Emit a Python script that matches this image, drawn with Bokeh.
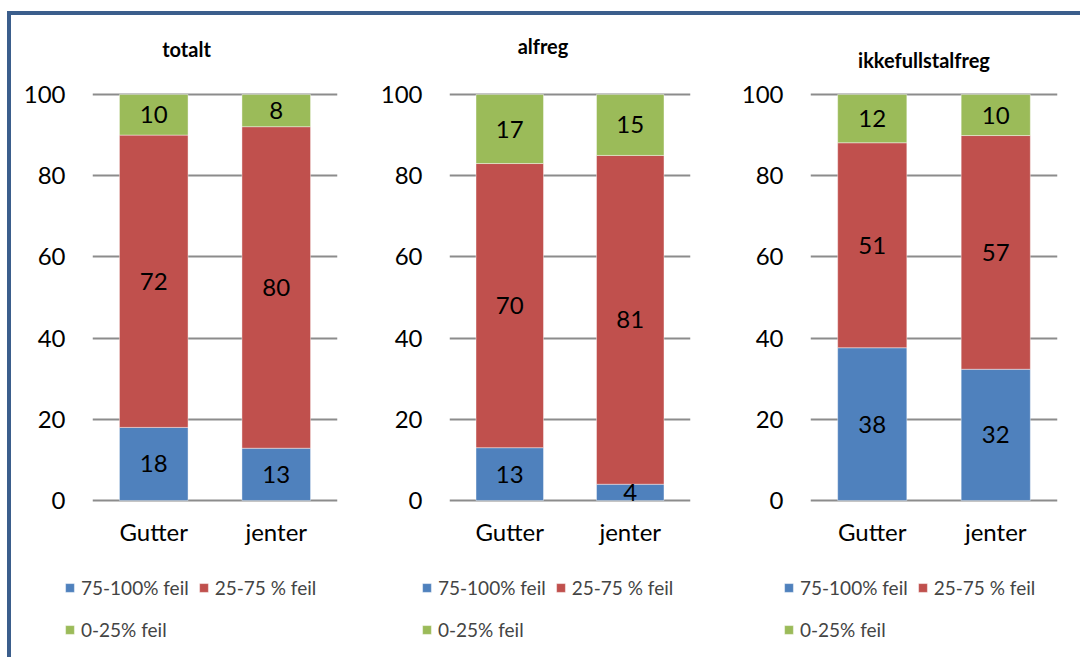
from bokeh.plotting import figure
from bokeh.models import (ColumnDataSource, FactorRange, Range1d, FixedTicker,
                          Legend, LegendItem, Row, Column, Div)
from bokeh.core.properties import value
from bokeh.embed import file_html
from bokeh.resources import INLINE

# ---- data -------------------------------------------------------------
categories = ["Gutter", "jenter"]
series = ["75-100% feil", "25-75 % feil", "0-25% feil"]
panel_titles = ["totalt", "alfreg", "ikkefullstalfreg"]

totalt_high = [18, 13]
totalt_mid = [72, 80]
totalt_low = [10, 8]

alfreg_high = [13, 4]
alfreg_mid = [70, 81]
alfreg_low = [17, 15]

ikke_high = [38, 32]
ikke_mid = [51, 57]
ikke_low = [12, 10]

y_ticks = [0, 20, 40, 60, 80, 100]

# ---- styling ----------------------------------------------------------
colors = ["#4F81BD", "#C0504D", "#9BBB59"]
FONT = "Lato"
FRAME_COLOR = "#3B5E8C"
GRID_COLOR = "#8C8C8C"


def title_div(text, width, pad_top, pad_left):
    html = (f'<div style="width:{width}px; padding-left:{pad_left}px; '
            f'padding-top:{pad_top}px; line-height:20px; text-align:center; '
            f'font-family:{FONT}; font-weight:bold; font-size:20px; '
            f'color:black;">{text}</div>')
    return Div(text=html, width=width, height=60, margin=0)


def chart(high, mid, low, border_left, frame_w, border_right):
    # 100 % stacked columns: each segment is its share of the column total
    totals = [h + m + l for h, m, l in zip(high, mid, low)]
    shares = [[v * 100.0 / t for v, t in zip(vals, totals)]
              for vals in (high, mid, low)]

    src = ColumnDataSource(dict(cat=categories, high=shares[0],
                                mid=shares[1], low=shares[2]))

    p = figure(x_range=FactorRange(*categories),
               y_range=Range1d(-0.5, 100.5),
               frame_width=frame_w, frame_height=410,
               min_border_left=border_left, min_border_right=border_right,
               min_border_top=17, min_border_bottom=60,
               output_backend="svg", toolbar_location=None)

    p.vbar_stack(["high", "mid", "low"], x="cat", width=0.56,
                 fill_color=colors, line_color="white",
                 line_width=0.6, line_alpha=0.7, source=src)

    # value labels centred in each segment
    lx, ly, lt = [], [], []
    for i, c in enumerate(categories):
        base = 0.0
        for vals, raw in zip(shares, (high, mid, low)):
            lx.append(c)
            ly.append(base + vals[i] / 2.0)
            lt.append(str(raw[i]))
            base += vals[i]
    p.text(x=lx, y=ly, text=lt, text_align="center", text_baseline="middle",
           text_font=value(FONT), text_font_size="24px", text_color="black")

    # axes and grid
    p.outline_line_color = None
    p.xgrid.visible = False
    p.ygrid.ticker = FixedTicker(ticks=y_ticks)
    p.ygrid.grid_line_color = GRID_COLOR
    p.ygrid.grid_line_width = 2

    p.yaxis.ticker = FixedTicker(ticks=y_ticks)
    p.yaxis.axis_line_color = None
    p.yaxis.major_tick_line_color = None
    p.yaxis.minor_tick_line_color = None
    p.yaxis.major_tick_out = 0
    p.yaxis.major_label_standoff = 27
    p.yaxis.major_label_text_font = FONT
    p.yaxis.major_label_text_font_size = "24px"
    p.yaxis.major_label_text_color = "black"

    p.xaxis.axis_line_color = None
    p.xaxis.major_tick_line_color = None
    p.xaxis.major_tick_out = 0
    p.xaxis.major_label_standoff = 14
    p.xaxis.major_label_text_font = FONT
    p.xaxis.major_label_text_font_size = "24px"
    p.xaxis.major_label_text_color = "black"
    return p


def legend_strip(width, x0):
    # key for the three series: two entries on the first row, one below
    q = figure(width=width, height=93, x_range=Range1d(0, 1),
               y_range=Range1d(0, 1), x_axis_type=None, y_axis_type=None,
               min_border=0, output_backend="svg", toolbar_location=None)
    q.frame_align = False
    q.outline_line_color = None
    # key-only renderers: a single empty (NaN) bar per series
    nan = float("nan")
    keys = [q.vbar(x=[nan], top=[nan], width=0.5, fill_color=c,
                   line_color="white", line_width=0.6, line_alpha=0.7)
            for c in colors]
    common = dict(orientation="horizontal", glyph_width=11, glyph_height=11,
                  label_text_font=FONT, label_text_font_size="19px",
                  label_standoff=6, spacing=9, padding=0, margin=0,
                  border_line_color=None, background_fill_alpha=0)
    q.add_layout(Legend(items=[LegendItem(label=series[0], renderers=[keys[0]]),
                               LegendItem(label=series[1], renderers=[keys[1]])],
                        location=(x0, 56), **common))
    q.add_layout(Legend(items=[LegendItem(label=series[2], renderers=[keys[2]])],
                        location=(x0, 14), **common))
    return q


def panel(title, high, mid, low, border_left, frame_w, border_right,
          pad_top, pad_left, legend_x):
    width = border_left + frame_w + border_right
    return Column(children=[title_div(title, width, pad_top, pad_left),
                            chart(high, mid, low, border_left, frame_w,
                                  border_right),
                            legend_strip(width, legend_x)],
                  spacing=0, margin=0)


col1 = panel(panel_titles[0], totalt_high, totalt_mid, totalt_low,
             81, 245, 23, 24, 2, 53)
col2 = panel(panel_titles[1], alfreg_high, alfreg_mid, alfreg_low,
             89, 241, 30, 21, 6, 61)
col3 = panel(panel_titles[2], ikke_high, ikke_mid, ikke_low,
             90, 247, 19, 35, 52, 63)

bar_style = {"background-color": FRAME_COLOR}
top_bar = Div(text="", width=1073, height=4, margin=0, styles=bar_style)
left_bar = Div(text="", width=4, height=642, margin=0, styles=bar_style)

layout = Column(children=[top_bar,
                          Row(children=[left_bar, col1, col2, col3],
                              spacing=0, margin=0)],
                spacing=0, margin=(11, 0, 0, 7))

open("out.html", "w").write(file_html(layout, INLINE))
